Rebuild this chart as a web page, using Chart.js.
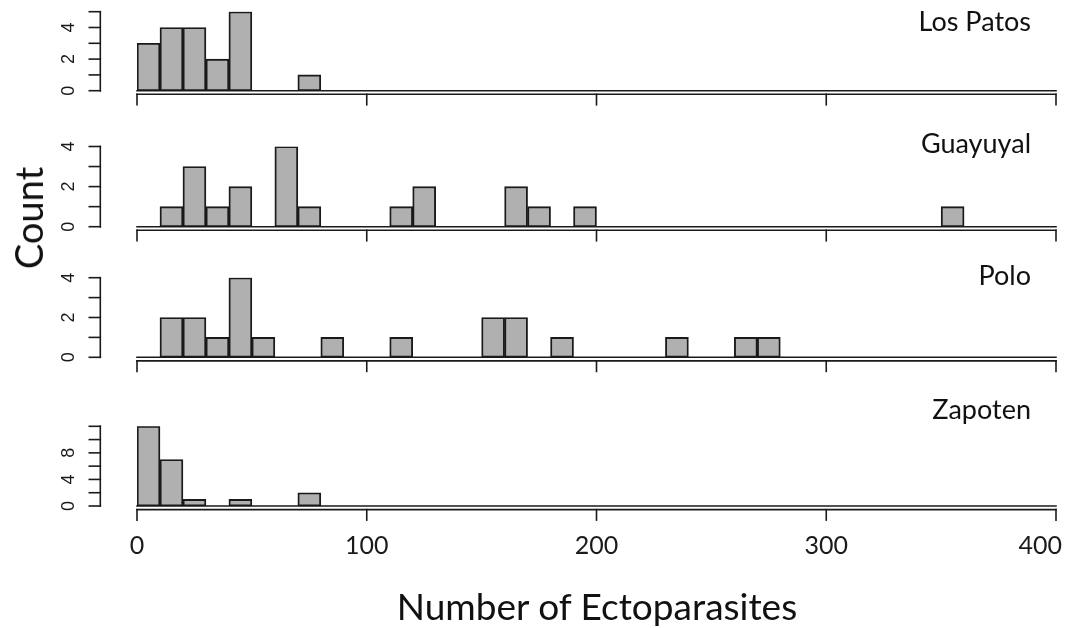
<!DOCTYPE html>
<html>
<head>
<meta charset="utf-8">
<script src="https://cdn.jsdelivr.net/npm/chart.js@4"></script>
<style>
  html, body { margin: 0; padding: 0; background: #fff; }
  #wrap { position: relative; width: 1074px; height: 628px; overflow: hidden; }
  #wrap canvas { position: absolute; left: 0; top: 0; }
  .title { position: absolute; font-family: Lato, "Open Sans", sans-serif; color: #111; white-space: nowrap; }
  #ytitle { left: 28px; top: 218px; font-size: 38px; transform: translate(-50%, -50%) rotate(-90deg); }
  #xtitle { left: 597px; top: 605px; font-size: 37px; transform: translate(-50%, -50%); }
</style>
</head>
<body>
<div id="wrap">
  <canvas id="c0" width="1074" height="628"></canvas>
  <canvas id="c1" width="1074" height="628"></canvas>
  <canvas id="c2" width="1074" height="628"></canvas>
  <canvas id="c3" width="1074" height="628"></canvas>
  <div class="title" id="ytitle">Count</div>
  <div class="title" id="xtitle">Number of Ectoparasites</div>
</div>
<script>
// histogram bins of width 10, given by their mid points
const binMids = [
  5, 15, 25, 35, 45, 55, 65, 75, 85, 95,
  105, 115, 125, 135, 145, 155, 165, 175, 185, 195,
  205, 215, 225, 235, 245, 255, 265, 275, 285, 295,
  305, 315, 325, 335, 345, 355, 365, 375, 385, 395
];

const losPatos = [
  3, 4, 4, 2, 5, 0, 0, 1, 0, 0,
  0, 0, 0, 0, 0, 0, 0, 0, 0, 0,
  0, 0, 0, 0, 0, 0, 0, 0, 0, 0,
  0, 0, 0, 0, 0, 0, 0, 0, 0, 0
];
const guayuyal = [
  0, 1, 3, 1, 2, 0, 4, 1, 0, 0,
  0, 1, 2, 0, 0, 0, 2, 1, 0, 1,
  0, 0, 0, 0, 0, 0, 0, 0, 0, 0,
  0, 0, 0, 0, 0, 1, 0, 0, 0, 0
];
const polo = [
  0, 2, 2, 1, 4, 1, 0, 0, 1, 0,
  0, 1, 0, 0, 0, 2, 2, 0, 1, 0,
  0, 0, 0, 1, 0, 0, 1, 1, 0, 0,
  0, 0, 0, 0, 0, 0, 0, 0, 0, 0
];
const zapoten = [
  12, 7, 1, 0, 1, 0, 0, 2, 0, 0,
  0, 0, 0, 0, 0, 0, 0, 0, 0, 0,
  0, 0, 0, 0, 0, 0, 0, 0, 0, 0,
  0, 0, 0, 0, 0, 0, 0, 0, 0, 0
];

const sites = ['Los Patos', 'Guayuyal', 'Polo', 'Zapoten'];

const xTicks = [0, 100, 200, 300, 400];
const yTicksLosPatos = [0, 1, 2, 3, 4, 5];
const yTicksFour = [0, 1, 2, 3, 4];
const yTicksZapoten = [0, 2, 4, 6, 8, 10, 12];
const yLabelsSmall = [0, 2, 4];
const yLabelsZapoten = [0, 4, 8];

// panel geometry (pixels): top = pixel of the highest y tick, base = pixel of 0
const panels = [
  { data: losPatos, yTicks: yTicksLosPatos, yLabels: yLabelsSmall, top: 11.7, base: 90.7, nameY: 31 },
  { data: guayuyal, yTicks: yTicksFour, yLabels: yLabelsSmall, top: 146.5, base: 226.7, nameY: 153 },
  { data: polo, yTicks: yTicksFour, yLabels: yLabelsSmall, top: 277.7, base: 357.3, nameY: 285 },
  { data: zapoten, yTicks: yTicksZapoten, yLabels: yLabelsZapoten, top: 426.3, base: 506, nameY: 419, showX: true }
];

const INK = '#1a1a1a';

// R-style axes: detached y axis on the left, x axis a little under the bars
const rAxes = {
  id: 'rAxes',
  afterDatasetsDraw(chart, args, opts) {
    const ctx = chart.ctx;
    const xs = chart.scales.x;
    const ys = chart.scales.y;
    const px = v => xs.getPixelForValue(v);
    const py = v => ys.getPixelForValue(v);
    const line = (x1, y1, x2, y2) => {
      ctx.beginPath();
      ctx.moveTo(x1, y1);
      ctx.lineTo(x2, y2);
      ctx.stroke();
    };
    const y0 = py(0);
    const xMin = xTicks[0];
    const xMax = xTicks[xTicks.length - 1];

    ctx.save();
    ctx.strokeStyle = INK;
    ctx.fillStyle = INK;
    ctx.lineWidth = 1.6;
    ctx.lineCap = 'square';

    // outline of the empty bins along the base
    line(px(xMin), y0, px(xMax), y0);

    // x axis
    const ya = y0 + 3.6;
    line(px(xMin), ya, px(xMax), ya);
    xTicks.forEach(v => line(px(v), ya, px(v), ya + 10.5));
    if (opts.showX) {
      ctx.font = '25px Lato, "Open Sans", sans-serif';
      ctx.textAlign = 'center';
      ctx.textBaseline = 'middle';
      xTicks.forEach(v => {
        const w = ctx.measureText(String(v)).width;
        let cx = px(v);
        if (cx + w / 2 > chart.width - 12) cx = chart.width - 12 - w / 2;
        ctx.fillText(String(v), cx, ya + 36);
      });
    }

    // y axis
    const ax = 100.3;
    const yt = opts.yTicks;
    line(ax, py(yt[0]), ax, py(yt[yt.length - 1]));
    yt.forEach(v => line(ax, py(v), ax - 11, py(v)));
    ctx.font = '18px "Liberation Sans", Arial, sans-serif';
    ctx.textAlign = 'center';
    ctx.textBaseline = 'middle';
    opts.yLabels.forEach(v => {
      ctx.save();
      ctx.translate(69.5, py(v));
      ctx.rotate(-Math.PI / 2);
      ctx.fillText(String(v), 0, 0);
      ctx.restore();
    });

    // site name in the upper right corner
    ctx.font = '27px Lato, "Open Sans", sans-serif';
    ctx.textAlign = 'right';
    ctx.textBaseline = 'alphabetic';
    ctx.fillStyle = '#111';
    ctx.fillText(opts.name, 1031, opts.nameY);
    ctx.restore();
  }
};

panels.forEach((p, i) => {
  const yMax = p.yTicks[p.yTicks.length - 1];
  new Chart(document.getElementById('c' + i), {
    type: 'bar',
    data: {
      datasets: [{
        label: sites[i],
        data: binMids.map((m, k) => ({ x: m, y: p.data[k] })),
        backgroundColor: '#b0b0b0',
        borderColor: INK,
        borderWidth: 1.9,
        borderSkipped: false,
        barPercentage: 1,
        categoryPercentage: 1
      }]
    },
    options: {
      responsive: false,
      animation: false,
      events: [],
      layout: {
        padding: { left: 137, right: 18, top: p.top, bottom: 628 - p.base }
      },
      scales: {
        x: { type: 'linear', offset: false, min: xTicks[0], max: xTicks[xTicks.length - 1], display: false },
        y: { min: 0, max: yMax, display: false }
      },
      plugins: {
        legend: { display: false },
        tooltip: { enabled: false },
        rAxes: {
          name: sites[i],
          nameY: p.nameY,
          yTicks: p.yTicks,
          yLabels: p.yLabels,
          showX: !!p.showX
        }
      }
    },
    plugins: [rAxes]
  });
});
</script>
</body>
</html>
